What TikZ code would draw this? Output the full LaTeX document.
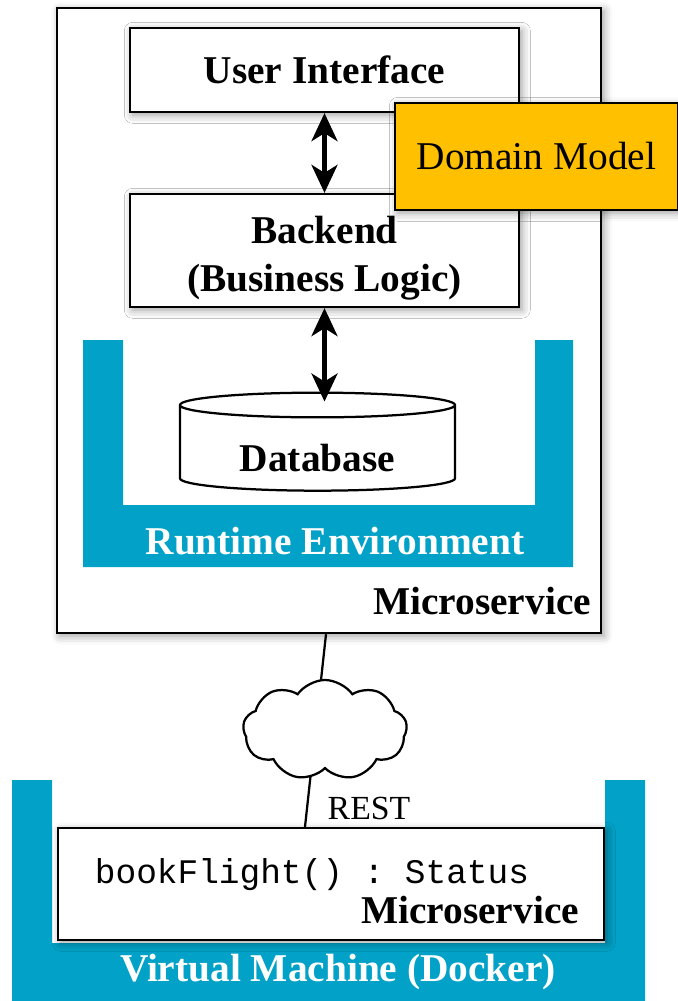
\documentclass[tikz,border=0pt]{standalone}
\usepackage{fontspec}
\setmainfont{Liberation Serif}
\setmonofont{Liberation Mono}
\usetikzlibrary{shapes.geometric, shapes.symbols, arrows.meta, shadows.blur}
\definecolor{envblue}{RGB}{2,161,199}
\definecolor{domainorange}{RGB}{255,192,0}
\tikzstyle{box} = [rectangle, draw=black, line width=1.6pt, fill=white, blur shadow={shadow xshift=2pt, shadow yshift=-2pt, shadow blur radius=6pt, shadow opacity=40}]
\tikzstyle{domainbox} = [rectangle, draw=black, line width=1.6pt, fill=domainorange, blur shadow={shadow xshift=2pt, shadow yshift=-2pt, shadow blur radius=6pt, shadow opacity=40}]
\tikzstyle{dbcyl} = [cylinder, shape border rotate=90, aspect=0.15, draw=black, line width=1.6pt, fill=white]
\tikzstyle{arrow} = [line width=3pt, {Stealth[length=0.7cm,width=0.65cm,inset=0.2cm]}-{Stealth[length=0.7cm,width=0.65cm,inset=0.2cm]}]
\tikzstyle{link} = [line width=1.6pt]
\tikzstyle{bigtext} = [font=\fontsize{28}{34.5}\selectfont\bfseries, align=center]
\tikzstyle{normaltext} = [font=\fontsize{28}{32}\selectfont]

\begin{document}
\begin{tikzpicture}[x=0.025cm, y=-0.025cm]
        \useasboundingbox (0,0) rectangle (678,1001);
        \clip (0,0) rectangle (678,1001);

        % Microservice with its layers
        \node (outer) [box, minimum width=13.6cm, minimum height=15.625cm] at (329,320.5) {};
        \node (ui) [box, bigtext, minimum width=9.725cm, minimum height=2.1cm] at (324.5,70) {User Interface};
        \node (backend) [box, minimum width=9.725cm, minimum height=2.825cm] at (324.5,250.5) {};
        \node (backendtext) [bigtext] at (324.5,258) {Backend\\(Business Logic)};
        \node (domain) [domainbox, normaltext, minimum width=7.075cm, minimum height=2.675cm] at (536.5,156.5) {Domain Model};

        % Runtime environment
        \fill[envblue] (83,340) -- (83,567) -- (573,567) -- (573,340) -- (535,340) -- (535,505) -- (123,505) -- (123,340) -- cycle;
        \node (rte) [bigtext, text=white] at (335,541) {Runtime Environment};
        \node (db) [dbcyl, bigtext, minimum width=6.875cm, minimum height=2.45cm] at (317.5,450) {\phantom{Database}};
        \node (dbtext) [bigtext] at (317.5,458) {Database};
        \node (mslabel) [bigtext] at (482,601) {Microservice};

        % Arrows
        \draw [arrow] (ui) -- (backend);
        \draw [arrow, shorten >=-0.25cm] (backend) -- (backend |- db.north);

        % Virtual machine
        \fill[envblue] (12,780) -- (12,1001) -- (645,1001) -- (645,780) -- (605,780) -- (605,943) -- (52,943) -- (52,780) -- cycle;
        \node (vmbox) [box, minimum width=13.65cm, minimum height=2.8cm] at (331,884) {};
        \node (op) [font=\fontsize{24.5}{28}\selectfont\ttfamily] at (312,875) {bookFlight() : Status};
        \node (vmms) [bigtext] at (470,910) {Microservice};
        \node (vm) [bigtext, text=white] at (338,972) {Virtual Machine (Docker)};

        % Network
        \draw [link] ([xshift=-0.075cm]outer.south) -- ([xshift=-0.65cm]vmbox.north);
        \node (cloud) [cloud, cloud puffs=9, cloud puff arc=110, aspect=1.6, draw=black, line width=1.6pt, fill=white, minimum width=4.1cm, minimum height=2.5cm] at (325,730) {};
        \node (rest) [font=\fontsize{24}{28}\selectfont] at (369,808) {REST};
    \end{tikzpicture}
\end{document}
